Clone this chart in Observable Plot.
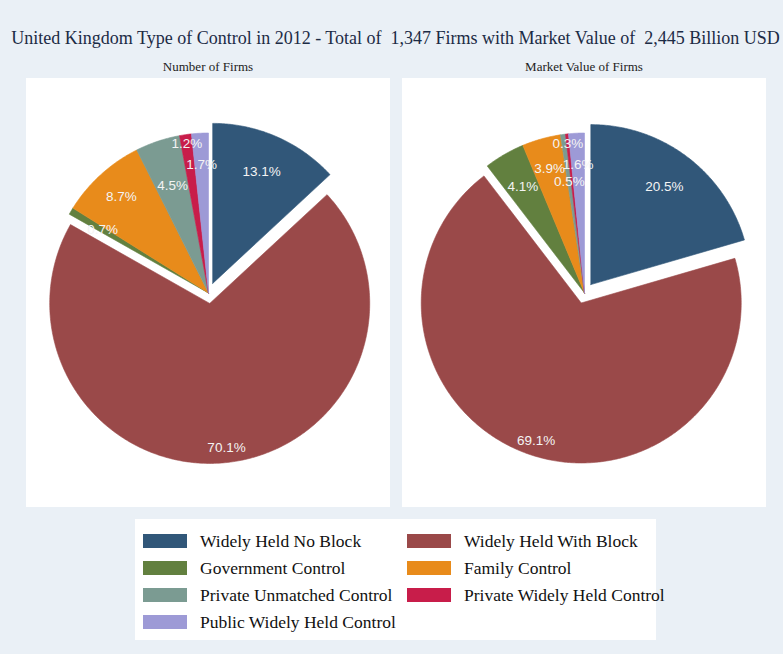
<!DOCTYPE html>
<html>
<head>
<meta charset="utf-8">
<script src="https://cdn.jsdelivr.net/npm/d3@7"></script>
<script src="https://cdn.jsdelivr.net/npm/@observablehq/plot@0.6"></script>
<style>
  html, body { margin: 0; padding: 0; }
  body { width: 783px; height: 654px; background: #eaf0f6; position: relative; overflow: hidden; font-family: "Liberation Serif", "Times New Roman", serif; }
  #title { position: absolute; left: 0; top: 28px; width: 791px; text-align: center; font-size: 18px; color: #1c2b45; white-space: nowrap; }
  .sub { position: absolute; top: 59px; width: 364px; text-align: center; font-size: 13px; color: #222; }
  .panel { position: absolute; top: 78px; width: 364px; height: 429px; background: #fff; }
  #legend { position: absolute; left: 135px; top: 519px; width: 521px; height: 121px; background: #fff; }
  .item { position: absolute; display: flex; align-items: center; font-size: 17.5px; color: #111; white-space: nowrap; }
  .sw { width: 44px; height: 14px; margin-right: 13px; }
</style>
</head>
<body>
<div id="title"></div>
<div class="sub" id="sub1" style="left:26px"></div>
<div class="sub" id="sub2" style="left:402px"></div>
<div class="panel" id="p1" style="left:26px"></div>
<div class="panel" id="p2" style="left:402px"></div>
<div id="legend"></div>
<script>
// ---- data ----
const titleText = "United Kingdom Type of Control in 2012 - Total of \u00a01,347 Firms with Market Value of \u00a02,445 Billion USD";
const panelTitles = ["Number of Firms", "Market Value of Firms"];
const categories = [
  "Widely Held No Block",
  "Widely Held With Block",
  "Government Control",
  "Family Control",
  "Private Unmatched Control",
  "Private Widely Held Control",
  "Public Widely Held Control"
];
const firmsPct = [13.1, 70.1, 0.7, 8.7, 4.5, 1.2, 1.7];
const valuePct = [20.5, 69.1, 4.1, 3.9, 0.5, 0.3, 1.6];

// ---- style ----
const colors = ["#315779", "#9a4949", "#62803f", "#e88b1b", "#7b9b92", "#c81d4a", "#9d9ad6"];
const explodedSet = new Set(["Widely Held No Block", "Widely Held With Block"]);
const explodeGap = 10.5 / 160;           // fraction of radius
const labelGap = {                        // label distance as fraction of radius (plabel gap)
  "Widely Held No Block": 0.765,
  "Widely Held With Block": 0.905,
  "Government Control": 0.77,
  "Family Control": 0.81,
  "Private Unmatched Control": 0.705,
  "Private Widely Held Control": 0.94,
  "Public Widely Held Control": 0.805
};
const W = 364, H = 429, R = 160;

document.getElementById("title").textContent = titleText;
document.getElementById("sub1").textContent = panelTitles[0];
document.getElementById("sub2").textContent = panelTitles[1];

function pieChart(values) {
  const rows = categories.map((c, i) => ({cat: c, v: values[i]}));
  const arcs = d3.pie().sort(null).value(d => d.v)(rows); // starts at 12 o'clock, clockwise
  const poly = [], labels = [];
  for (const a of arcs) {
    const mid = (a.startAngle + a.endAngle) / 2;
    const off = explodedSet.has(a.data.cat) ? explodeGap : 0;
    const cx = off * Math.sin(mid), cy = off * Math.cos(mid);
    poly.push({cat: a.data.cat, x: cx, y: cy});
    const n = Math.max(2, Math.ceil((a.endAngle - a.startAngle) / 0.01));
    for (let k = 0; k <= n; k++) {
      const t = a.startAngle + (a.endAngle - a.startAngle) * k / n;
      poly.push({cat: a.data.cat, x: cx + Math.sin(t), y: cy + Math.cos(t)});
    }
    poly.push({cat: a.data.cat, x: cx, y: cy});
    const lr = labelGap[a.data.cat];
    labels.push({cat: a.data.cat, x: cx + lr * Math.sin(mid), y: cy + lr * Math.cos(mid), text: a.data.v.toFixed(1) + "%"});
  }
  return Plot.plot({
    width: W, height: H,
    margin: 0,
    style: {background: "transparent", overflow: "visible"},
    x: {domain: [-(W / 2) / R, (W / 2) / R], axis: null},
    y: {domain: [-(H / 2) / R, (H / 2) / R], axis: null},
    color: {domain: categories, range: colors},
    marks: [
      Plot.line(poly, {x: "x", y: "y", z: "cat", fill: "cat", stroke: "cat", strokeWidth: 0.6, curve: "linear"}),
      Plot.text(labels, {x: "x", y: "y", text: "text", fill: "#f4f4f4", fontSize: 13.5, fontFamily: "Liberation Sans, Arial, sans-serif"})
    ]
  });
}

document.getElementById("p1").appendChild(pieChart(firmsPct));
document.getElementById("p2").appendChild(pieChart(valuePct));

// legend: two columns, row-major
const leg = document.getElementById("legend");
categories.forEach((c, i) => {
  const col = i % 2, row = Math.floor(i / 2);
  const it = document.createElement("div");
  it.className = "item";
  it.style.left = (8 + col * 264) + "px";
  it.style.top = (11 + row * 27) + "px";
  it.style.height = "22px";
  const sw = document.createElement("div");
  sw.className = "sw";
  sw.style.background = colors[i];
  const tx = document.createElement("span");
  tx.textContent = c;
  it.appendChild(sw); it.appendChild(tx);
  leg.appendChild(it);
});
</script>
</body>
</html>
